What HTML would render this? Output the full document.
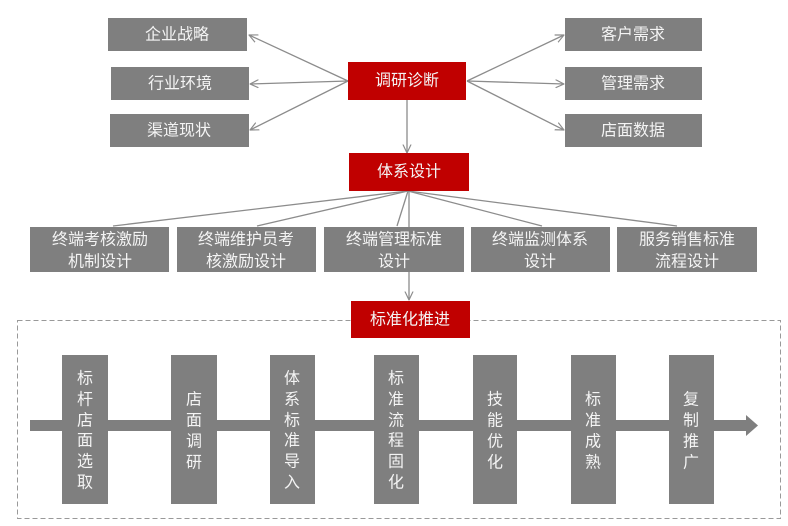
<!DOCTYPE html>
<html><head><meta charset="utf-8"><style>
html,body{margin:0;padding:0;background:#fff;}
svg{display:block;}
text{font-family:"Liberation Sans","Noto Sans CJK SC","WenQuanYi Zen Hei",sans-serif;fill:#f4f4f4;font-size:16px;}
</style></head><body>
<svg width="788" height="526" viewBox="0 0 788 526" xmlns="http://www.w3.org/2000/svg">
<defs>
<marker id="ah" viewBox="0 0 10 10" refX="9.5" refY="5" markerWidth="9" markerHeight="9" markerUnits="userSpaceOnUse" orient="auto">
<polyline points="0,0.5 9.5,5 0,9.5" fill="none" stroke="#8c8c8c" stroke-width="1.3"/>
</marker>
</defs>
<g stroke="#8c8c8c" stroke-width="1.3" fill="none">
<line x1="348" y1="81" x2="249" y2="35" marker-end="url(#ah)"/>
<line x1="348" y1="81" x2="250" y2="84" marker-end="url(#ah)"/>
<line x1="348" y1="81" x2="250" y2="130" marker-end="url(#ah)"/>
<line x1="467" y1="81" x2="564" y2="35" marker-end="url(#ah)"/>
<line x1="467" y1="81" x2="564" y2="84" marker-end="url(#ah)"/>
<line x1="467" y1="81" x2="564" y2="130" marker-end="url(#ah)"/>
<line x1="407" y1="100" x2="407" y2="153" marker-end="url(#ah)"/>
<line x1="408" y1="191" x2="113" y2="226"/>
<line x1="408" y1="191" x2="257" y2="226"/>
<line x1="408" y1="191" x2="397" y2="226"/>
<line x1="408" y1="191" x2="542" y2="226"/>
<line x1="408" y1="191" x2="677" y2="226"/>
<line x1="409" y1="191" x2="409" y2="300" marker-end="url(#ah)"/>
</g>
<rect x="17.5" y="320.5" width="763" height="198" fill="none" stroke="#999" stroke-width="1" stroke-dasharray="5,3"/>
<g fill="#7f7f7f">
<rect x="108" y="18" width="139" height="33"/>
<rect x="111" y="67" width="138" height="33"/>
<rect x="110" y="114" width="139" height="33"/>
<rect x="565" y="18" width="137" height="33"/>
<rect x="565" y="67" width="137" height="33"/>
<rect x="565" y="114" width="137" height="33"/>
<rect x="30" y="227" width="139" height="45"/>
<rect x="177" y="227" width="139" height="45"/>
<rect x="324" y="227" width="140" height="45"/>
<rect x="471" y="227" width="139" height="45"/>
<rect x="617" y="227" width="140" height="45"/>
<rect x="30" y="420" width="720" height="11"/>
<polygon points="746,415 758,425.5 746,436"/>
<rect x="62" y="355" width="46" height="149"/>
<rect x="171" y="355" width="46" height="149"/>
<rect x="270" y="355" width="45" height="149"/>
<rect x="374" y="355" width="45" height="149"/>
<rect x="473" y="355" width="44" height="149"/>
<rect x="571" y="355" width="45" height="149"/>
<rect x="669" y="355" width="45" height="149"/>
</g>
<g fill="#c00000">
<rect x="348" y="62" width="118" height="38"/>
<rect x="349" y="153" width="120" height="38"/>
<rect x="351" y="301" width="119" height="37"/>
</g>
<g text-anchor="middle" dominant-baseline="central">
<text x="177" y="35">企业战略</text>
<text x="180" y="84">行业环境</text>
<text x="179" y="131">渠道现状</text>
<text x="633" y="35">客户需求</text>
<text x="633" y="84">管理需求</text>
<text x="633" y="131">店面数据</text>
<text x="407" y="81">调研诊断</text>
<text x="409" y="172">体系设计</text>
<text x="410" y="320">标准化推进</text>
<text x="100" y="240">终端考核激励</text>
<text x="100" y="262">机制设计</text>
<text x="246" y="240">终端维护员考</text>
<text x="246" y="262">核激励设计</text>
<text x="394" y="240">终端管理标准</text>
<text x="394" y="262">设计</text>
<text x="540" y="240">终端监测体系</text>
<text x="540" y="262">设计</text>
<text x="687" y="240">服务销售标准</text>
<text x="687" y="262">流程设计</text>
</g>
<g text-anchor="middle" dominant-baseline="central">
<text x="85" y="379">标</text><text x="85" y="400">杆</text><text x="85" y="421">店</text><text x="85" y="441">面</text><text x="85" y="462">选</text><text x="85" y="483">取</text>
<text x="194" y="400">店</text><text x="194" y="421">面</text><text x="194" y="442">调</text><text x="194" y="463">研</text>
<text x="292" y="379">体</text><text x="292" y="400">系</text><text x="292" y="421">标</text><text x="292" y="441">准</text><text x="292" y="462">导</text><text x="292" y="483">入</text>
<text x="396" y="379">标</text><text x="396" y="400">准</text><text x="396" y="421">流</text><text x="396" y="441">程</text><text x="396" y="462">固</text><text x="396" y="483">化</text>
<text x="495" y="400">技</text><text x="495" y="421">能</text><text x="495" y="442">优</text><text x="495" y="463">化</text>
<text x="593" y="400">标</text><text x="593" y="421">准</text><text x="593" y="442">成</text><text x="593" y="463">熟</text>
<text x="691" y="400">复</text><text x="691" y="421">制</text><text x="691" y="442">推</text><text x="691" y="463">广</text>
</g>
</svg>
</body></html>
